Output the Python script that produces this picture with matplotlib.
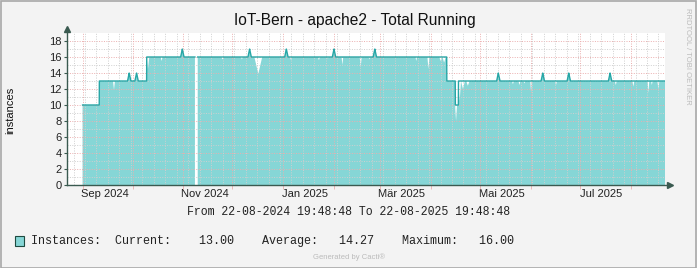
import numpy as np
import pandas as pd
import matplotlib
matplotlib.use("Agg")
import matplotlib.pyplot as plt
import matplotlib.dates as mdates
from matplotlib.patches import Rectangle

# Zeitraum
t_start = "2024-08-22 19:48:48"
t_end = "2025-08-22 19:48:48"

# Stufen der Linie (Zeitpunkt, Anzahl)
step_dates = ["2024-09-01 07:00", "2024-09-11 12:00", "2024-10-10 10:00",
              "2025-04-11 14:00", "2025-04-16 19:00", "2025-04-18 17:00"]
step_levels = [10, 13, 16, 13, 10, 13]

# Luecke ohne Daten
gap_start = "2024-11-08 22:00"
gap_end = "2024-11-10 14:00"

# Spitzen nach oben
spike_dates = ["2024-09-29 19:00", "2024-10-04 07:00", "2024-11-01 05:00",
               "2024-12-12 07:00", "2025-01-03 17:00", "2025-02-01 19:00",
               "2025-02-26 17:00", "2025-05-13 02:00", "2025-06-09 05:00",
               "2025-06-25 02:00", "2025-07-20 07:00"]
spike_peaks = [14, 14, 17, 17, 17, 17, 17, 14, 14, 14, 14]

# Einbrueche der Flaeche (Zeitpunkt, Tiefstwert, halbe Breite in Tagen)
dip_dates = ["2024-09-20 12:00", "2024-10-11 06:00", "2024-10-19 14:00",
             "2024-11-25 19:00", "2024-12-07 14:00", "2024-12-17 14:00",
             "2025-01-06 14:00", "2025-01-23 14:00", "2025-01-29 02:00",
             "2025-02-06 22:00", "2025-02-18 02:00", "2025-02-23 10:00",
             "2025-03-24 00:00", "2025-03-31 10:00", "2025-04-08 00:00",
             "2025-04-10 00:00", "2025-04-17 07:00", "2025-04-19 12:00",
             "2025-04-21 12:00", "2025-04-24 12:00", "2025-05-22 00:00",
             "2025-05-26 00:00", "2025-05-29 00:00", "2025-06-02 02:00",
             "2025-06-17 07:00", "2025-07-23 19:00", "2025-08-03 12:00",
             "2025-08-12 17:00", "2025-08-14 19:00", "2025-08-18 19:00"]
dip_values = [11.9, 14.5, 15.5, 15.7, 15.7, 13.9, 15.6, 15.6, 15.8, 15.0,
              14.7, 15.7, 15.5, 14.5, 15.5, 15.3, 8.0, 10.5, 12.0, 12.4,
              12.6, 12.5, 12.7, 11.6, 12.5, 12.5, 12.3, 11.5, 12.5, 12.0]
dip_widths = [0.6, 0.8, 0.6, 0.8, 0.6, 2.4, 0.6, 0.6, 0.5, 0.5, 0.6, 0.5,
              0.5, 0.6, 1.0, 1.0, 0.6, 0.8, 1.2, 1.0, 0.6, 0.6, 0.6, 0.5,
              0.6, 0.6, 0.6, 0.5, 0.5, 0.6]

tick_labels = ["Sep 2024", "Nov 2024", "Jan 2025", "Mär 2025", "Mai 2025", "Jul 2025"]
tick_label_dates = ["2024-09-15", "2024-11-15", "2025-01-15",
                    "2025-03-15", "2025-05-15", "2025-07-15"]

# Farben
bg = "#F3F3F3"
area_col = "#86D6D6"
line_col = "#26A6A6"
axis_col = "#3A5A50"
major_col = "#EBAEAE"
minor_col = "#CFCFCF"

# Serien aufbauen
d = lambda s: mdates.date2num(pd.Timestamp(s))
t = mdates.date2num(pd.date_range(t_start, t_end, freq="1h"))
sd = np.array([d(s) for s in step_dates])
idx = np.searchsorted(sd, t, side="right") - 1
line = np.where(idx >= 0, np.array(step_levels, float)[np.clip(idx, 0, None)], np.nan)
for s, p in zip(spike_dates, spike_peaks):
    base = step_levels[np.searchsorted(sd, d(s), side="right") - 1]
    line = line + np.clip(1 - np.abs(t - d(s)) / 1.0, 0, None) * (p - base)
area = line.copy()
for s, v, w in zip(dip_dates, dip_values, dip_widths):
    base = step_levels[np.searchsorted(sd, d(s), side="right") - 1]
    area = area - np.clip(1 - np.abs(t - d(s)) / w, 0, None) * (base - v)
gap = (t > d(gap_start)) & (t < d(gap_end))
line[gap] = np.nan
area[gap] = np.nan

fig = plt.figure(figsize=(6.97, 2.68), dpi=100, facecolor=bg)
W, H = 697, 268
ax = fig.add_axes([67 / W, (H - 185) / H, (665 - 67) / W, (185 - 33) / H])
ax.set_facecolor("white")
x0, x1 = d(t_start), d(t_end)
ax.set_xlim(x0, x1)
ax.set_ylim(0, 19)

ax.fill_between(t, 0, area, where=~np.isnan(area), color=area_col, lw=0, zorder=2)
ax.plot(t, line, color=line_col, lw=1.0, zorder=4)

# Gitter
for y in range(1, 19):
    ax.axhline(y, color=major_col if y % 2 == 0 else minor_col, lw=0.7,
               ls=(0, (1, 1.5)), zorder=3)
for wk in pd.date_range(t_start, t_end, freq="W-MON"):
    ax.axvline(mdates.date2num(wk), color=minor_col, lw=0.7, ls=(0, (1, 1.5)), zorder=3)
for m in pd.date_range(t_start, t_end, freq="MS"):
    ax.axvline(mdates.date2num(m), color=major_col, lw=0.7, ls=(0, (1, 1.5)), zorder=3)

for sp in ax.spines.values():
    sp.set_visible(False)
ax.plot([x0, x0], [0, 19.45], color=axis_col, lw=1.0, clip_on=False, zorder=5)
ax.plot([x0, x1 + 3.2], [0, 0], color=axis_col, lw=1.0, clip_on=False, zorder=5)
ax.plot([x0], [19.45], marker="^", ms=4, color=axis_col, clip_on=False, zorder=5)
ax.plot([x1 + 3.2], [0], marker=">", ms=4, color=axis_col, clip_on=False, zorder=5)

ax.set_yticks(range(0, 19, 2))
ax.tick_params(axis="y", length=2, color=axis_col, labelsize=8, pad=2,
               labelcolor="#222222")
ax.set_xticks([d(s) for s in tick_label_dates])
ax.set_xticklabels(tick_labels)
ax.tick_params(axis="x", length=0, labelsize=8, pad=3, labelcolor="#222222")
ax.set_xticks([mdates.date2num(m) for m in pd.date_range(t_start, t_end, freq="MS")],
              minor=True)
ax.tick_params(axis="x", which="minor", length=3, color=major_col, direction="out")
for lab in ax.get_xticklabels() + ax.get_yticklabels():
    lab.set_family("Liberation Sans")

fig.text(355 / W, 1 - 20 / H, "IoT-Bern - apache2 - Total Running", ha="center",
         va="center", fontsize=11.2, family="Liberation Sans", color="#111111")
fig.text(10 / W, 1 - 110 / H, "instances", rotation=90, ha="center", va="center",
         fontsize=8, family="Liberation Sans", color="#111111")
fig.text(349 / W, 1 - 212 / H, "From 22-08-2024 19:48:48 To 22-08-2025 19:48:48",
         ha="center", va="center", fontsize=8.3, family="Liberation Mono", color="#222222")

fig.patches.append(Rectangle((15 / W, 1 - 246 / H), 9 / W, 10 / H, transform=fig.transFigure,
                             facecolor=area_col, edgecolor="#1E4A40", lw=0.8))
fig.text(31 / W, 1 - 241 / H,
         "Instances:  Current:    13.00    Average:   14.27    Maximum:   16.00",
         ha="left", va="center", fontsize=8.45, family="Liberation Mono", color="#222222")
fig.text(349 / W, 1 - 257 / H, "Generated by Cacti®", ha="center", va="center",
         fontsize=5.5, family="Liberation Sans", color="#BBBBBB")
fig.text(687 / W, 1 - 56 / H, "RRDTOOL / TOBI OETIKER", rotation=270, ha="center",
         va="center", fontsize=5.5, family="Liberation Sans", color="#BBBBBB")

# Rahmen
fig.patches.append(Rectangle((0.5 / W, 0.5 / H), (W - 1.5) / W, (H - 1.5) / H,
                             transform=fig.transFigure, fill=False,
                             edgecolor="#A8A8A8", lw=1.2))

fig.savefig("out.png", dpi=100, facecolor=bg)
